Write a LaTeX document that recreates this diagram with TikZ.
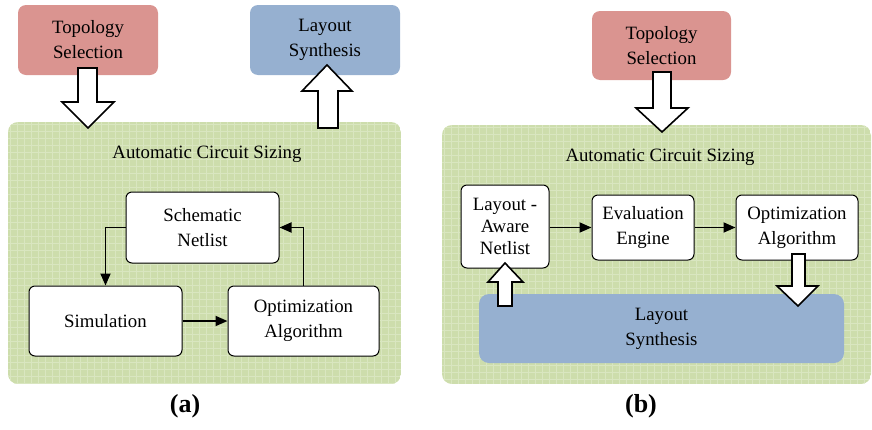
\documentclass[tikz,border=0pt]{standalone}
\usepackage{fontspec}
\setmainfont{Liberation Serif}
\usetikzlibrary{arrows.meta}
\usetikzlibrary{positioning}
\definecolor{cred}{RGB}{218,148,144}
\definecolor{cblue}{RGB}{150,176,208}
\definecolor{cgreen}{RGB}{205,221,172}
\definecolor{cgrid}{RGB}{217,230,192}

\tikzset{
  colbox/.style={rounded corners=4pt, inner sep=0pt, align=center},
  stagebox/.style={draw, fill=white, line width=0.5pt, rounded corners=3pt, align=center, inner sep=0pt},
  flow/.style={-{Triangle[length=6pt,width=5pt]}, line width=0.9pt},
  blockarrow/.style={draw, fill=white, line width=0.8pt, line join=miter},
  caption/.style={font=\fontsize{13}{15}\selectfont\bfseries},
}

\begin{document}
\begin{tikzpicture}[x=0.5pt, y=-0.5pt, font=\fontsize{9.4}{12.5}\selectfont]
  \useasboundingbox (0,0) rectangle (872,429);

  % green panels with faint grid
  \begin{scope}
    \clip [rounded corners=5pt] (8,122) rectangle (401,384);
    \fill [cgreen] (8,122) rectangle (401,384);
    \foreach \gx in {10,17,...,401} \draw [cgrid, line width=0.4pt] (\gx,122) -- (\gx,384);
    \foreach \gy in {124,131,...,384} \draw [cgrid, line width=0.4pt] (8,\gy) -- (401,\gy);
  \end{scope}
  \begin{scope}
    \clip [rounded corners=5pt] (442,125) rectangle (871,384);
    \fill [cgreen] (442,125) rectangle (871,384);
    \foreach \gx in {444,451,...,871} \draw [cgrid, line width=0.4pt] (\gx,125) -- (\gx,384);
    \foreach \gy in {127,134,...,384} \draw [cgrid, line width=0.4pt] (442,\gy) -- (871,\gy);
  \end{scope}

  % (a)
  \node [colbox, fill=cred, minimum width=70pt, minimum height=35pt] (topoA) at (88,40) {Topology\\Selection};
  \node [colbox, fill=cblue, minimum width=75pt, minimum height=35pt] (layA) at (325,40) {Layout\\Synthesis};
  \node (sizingA) at (207,154) {Automatic Circuit Sizing};

  \node [stagebox, minimum width=76.5pt, minimum height=35.5pt] (schem) at (202.5,227.5) {Schematic\\Netlist};
  \node [stagebox, minimum width=76.5pt, minimum height=35pt] (sim) at (105.5,321) {Simulation};
  \node [stagebox, minimum width=75.5pt, minimum height=35pt] (optA) at (303.5,321) {Optimization\\Algorithm};

  \draw [flow] (schem.west) -| (sim.north);
  \draw [flow] (sim.east) -- (optA.west);
  \draw [flow] (optA.north) |- (schem.east);

  \draw [blockarrow] (78,68) -- (97,68) -- (97,102) -- (114,102) -- (88,128)
    -- (62,102) -- (78,102) -- cycle;
  \draw [blockarrow] (318,128) -- (318,91) -- (302,91) -- (327,65) -- (352,91)
    -- (338,91) -- (338,128) -- cycle;

  \node [caption] (capA) at (185,406) {(a)};

  % (b)
  \node [colbox, fill=cred, minimum width=69.5pt, minimum height=34.5pt] (topoB) at (661.5,45.5) {Topology\\Selection};
  \node (sizingB) at (660,157) {Automatic Circuit Sizing};

  \node [stagebox, minimum width=44pt, minimum height=41.5pt] (lan) at (505,226.5) {Layout -\\[-1.5pt]Aware\\[-1.5pt]Netlist};
  \node [stagebox, minimum width=51pt, minimum height=32.5pt] (eval) at (643,227.5) {Evaluation\\Engine};
  \node [stagebox, minimum width=61pt, minimum height=32.5pt] (optB) at (797,227.5) {Optimization\\Algorithm};
  \node [colbox, fill=cblue, rounded corners=5pt, minimum width=182.5pt, minimum height=34.5pt] (laySynB) at (661.5,328.5) {Layout\\Synthesis};

  \draw [flow] (lan.east |- eval.west) -- (eval.west);
  \draw [flow] (eval.east) -- (optB.west);

  \draw [blockarrow] (653,72) -- (671,72) -- (671,108) -- (688,108) -- (662,132)
    -- (636,108) -- (653,108) -- cycle;
  \draw [blockarrow] (498,306) -- (498,282) -- (488,282) -- (505,263) -- (523,282)
    -- (512,282) -- (512,306) -- cycle;
  \draw [blockarrow] (792,254) -- (805,254) -- (805,286) -- (818,286) -- (798,306)
    -- (777,286) -- (792,286) -- cycle;

  \node [caption] (capB) at (641,406) {(b)};
\end{tikzpicture}
\end{document}
